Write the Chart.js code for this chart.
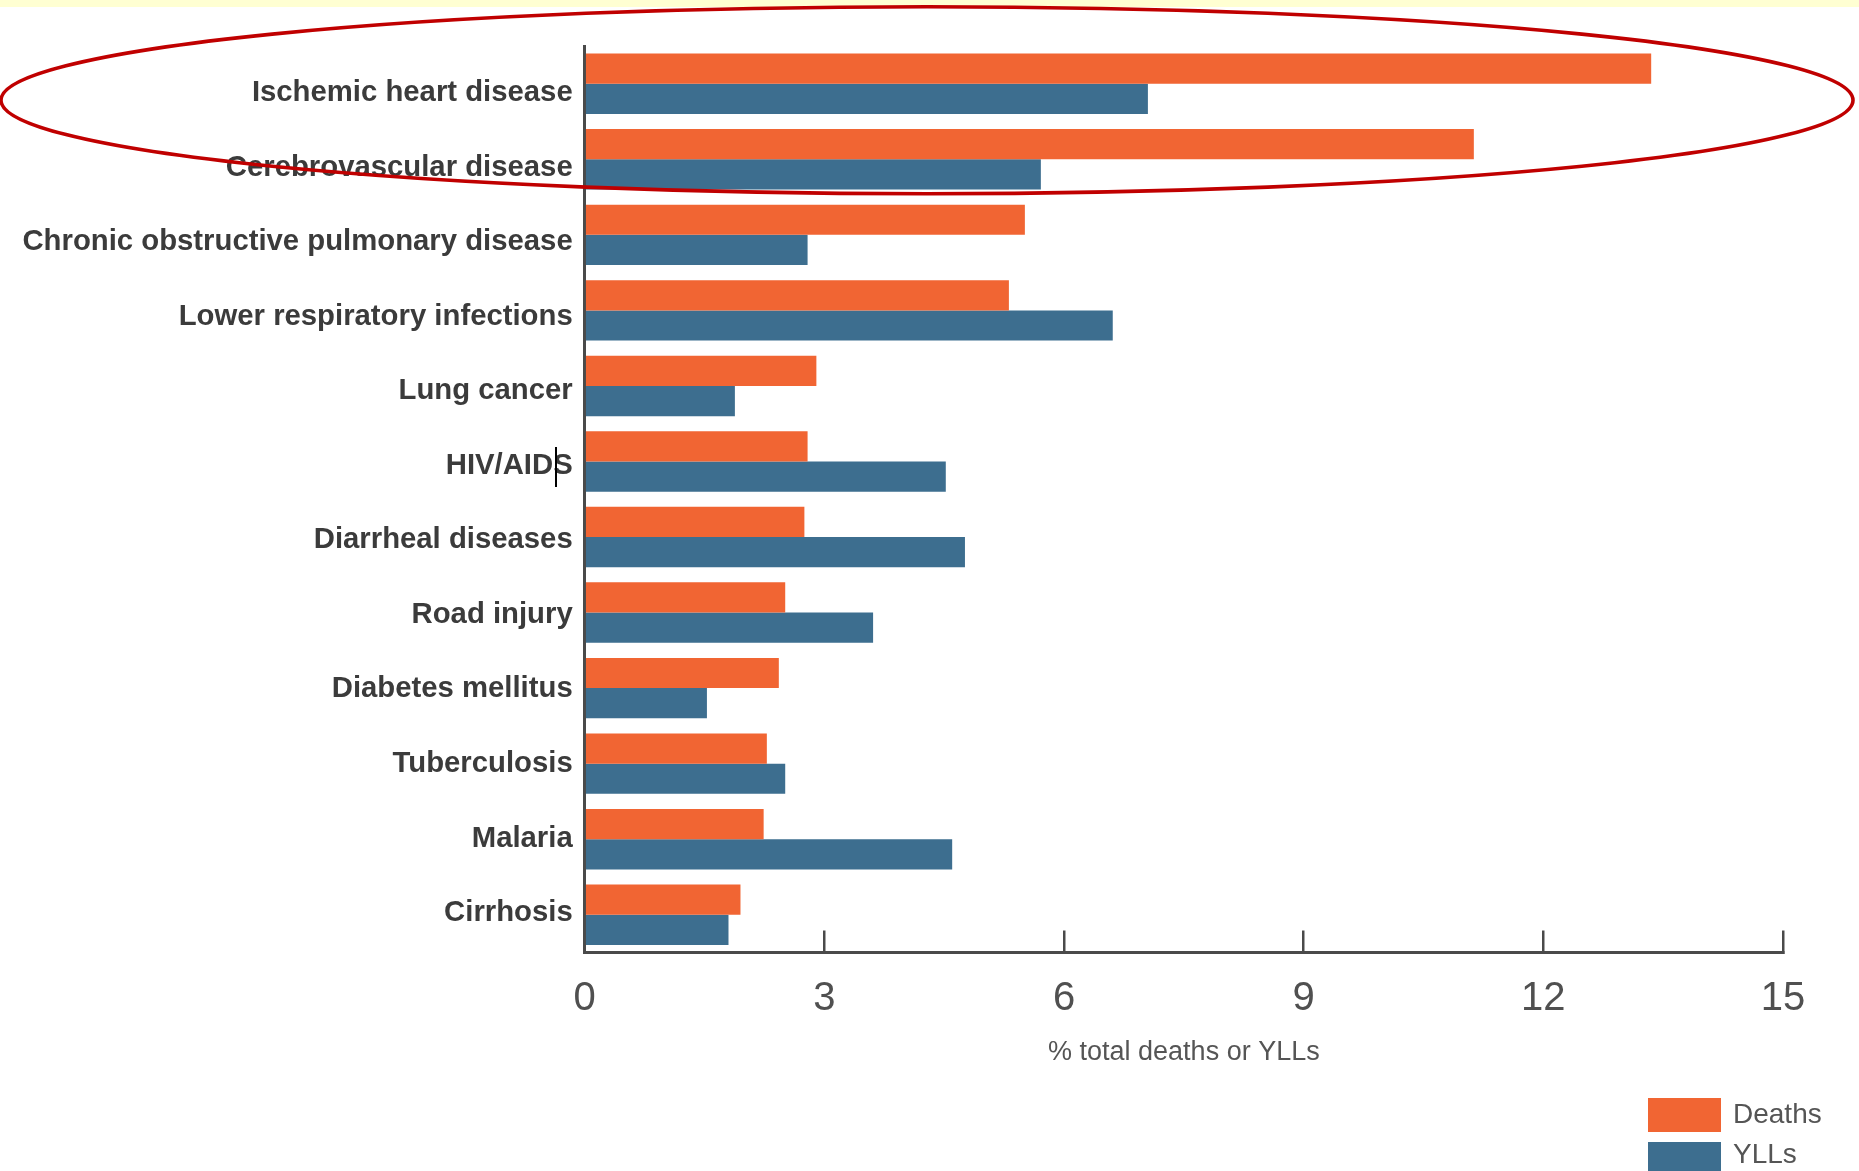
<!DOCTYPE html>
<html>
<head>
<meta charset="utf-8">
<title>Leading causes of death and years of life lost</title>
<script src="https://cdn.jsdelivr.net/npm/chart.js@4.4.1/dist/chart.umd.min.js"></script>
<style>
  html, body { margin: 0; padding: 0; background: #ffffff; overflow: hidden; }
  #wrap { position: relative; width: 1859px; height: 1171px; }
  #band { position: absolute; left: 0; top: 0; width: 100%; height: 7px; background: #FFFFD2; z-index: 0; }
  #chart { position: absolute; left: 0; top: 0; z-index: 1; }
  #legend { position: absolute; left: 1648px; top: 1098px; z-index: 2;
            font-family: 'Liberation Sans', Arial, sans-serif; font-size: 28px; color: #555555; }
  .row { display: flex; align-items: center; height: 34px; margin-bottom: 10px; }
  .row span.txt { position: relative; top: -1px; }
  .row:nth-child(2) span.txt { top: -5px; }
  .sw { width: 73px; height: 34px; margin-right: 12px; flex: none; }
  #caret { position: absolute; left: 555px; top: 447px; width: 2px; height: 40px; background: #000; z-index: 3; }
</style>
</head>
<body>
<div id="wrap">
  <div id="band"></div>
  <canvas id="chart" width="1859" height="1171"></canvas>
  <div id="legend"></div>
  <div id="caret"></div>
</div>
<script>
// Causes, top to bottom
const categories = [
  'Ischemic heart disease',
  'Cerebrovascular disease',
  'Chronic obstructive pulmonary disease',
  'Lower respiratory infections',
  'Lung cancer',
  'HIV/AIDS',
  'Diarrheal diseases',
  'Road injury',
  'Diabetes mellitus',
  'Tuberculosis',
  'Malaria',
  'Cirrhosis'
];
// % of total deaths
const deaths = [13.35, 11.13, 5.51, 5.31, 2.90, 2.79, 2.75, 2.51, 2.43, 2.28, 2.24, 1.95];
// % of total years of life lost
const ylls = [7.05, 5.71, 2.79, 6.61, 1.88, 4.52, 4.76, 3.61, 1.53, 2.51, 4.60, 1.80];
const seriesNames = ['Deaths', 'YLLs'];
const xTicks = [0, 3, 6, 9, 12, 15];
const axisTitle = '% total deaths or YLLs';
// categories circled by the highlight ring
const highlighted = [0, 1];

const ORANGE = '#F16533';
const BLUE = '#3D6E8F';
const AXIS = '#4a4a4a';
const FONT = "'Liberation Sans', Arial, sans-serif";

// red ring around the highlighted categories
const ringPlugin = {
  id: 'ring',
  afterDraw(chart) {
    const y = chart.scales.y;
    const step = y.getPixelForValue(1) - y.getPixelForValue(0);
    const top = y.getPixelForValue(highlighted[0]) - 1.02 * step;
    const bottom = y.getPixelForValue(highlighted[highlighted.length - 1]) + 0.455 * step;
    const left = 1;
    const right = chart.width - 6;
    const ctx = chart.ctx;
    ctx.save();
    ctx.beginPath();
    ctx.ellipse((left + right) / 2, (top + bottom) / 2, (right - left) / 2, (bottom - top) / 2, 0, 0, Math.PI * 2);
    ctx.strokeStyle = '#C00000';
    ctx.lineWidth = 3.6;
    ctx.stroke();
    ctx.restore();
  }
};

const chart = new Chart(document.getElementById('chart'), {
  type: 'bar',
  data: {
    labels: categories,
    datasets: [
      { label: seriesNames[0], data: deaths, backgroundColor: ORANGE, borderWidth: 0,
        categoryPercentage: 0.8, barPercentage: 1.0 },
      { label: seriesNames[1], data: ylls, backgroundColor: BLUE, borderWidth: 0,
        categoryPercentage: 0.8, barPercentage: 1.0 }
    ]
  },
  options: {
    indexAxis: 'y',
    responsive: false,
    devicePixelRatio: 1,
    animation: false,
    layout: { padding: { top: 46, right: 76, bottom: 0, left: 0 } },
    plugins: { legend: { display: false }, tooltip: { enabled: false } },
    scales: {
      x: {
        type: 'linear',
        min: xTicks[0],
        max: xTicks[xTicks.length - 1],
        afterBuildTicks(scale) { scale.ticks = xTicks.map(v => ({ value: v })); },
        afterFit(scale) { scale.height = 218.5; },
        ticks: { font: { family: FONT, size: 40 }, color: '#505050', padding: 44 },
        grid: { display: true, drawOnChartArea: false, drawTicks: true, tickLength: -22,
                lineWidth: 2.5, color: AXIS },
        border: { display: true, width: 3, color: AXIS },
        title: { display: true, text: axisTitle, color: '#555555',
                 font: { family: FONT, size: 27 }, padding: { top: 0, bottom: 102.5 } }
      },
      // band axis carrying the bars
      y: {
        type: 'category',
        weight: 1,
        afterFit(scale) { scale.width = 0; },
        ticks: { display: false },
        grid: { display: false, drawTicks: false },
        border: { display: true, width: 3, color: AXIS }
      },
      // name axis: one label per cause, set slightly tighter than the bar bands
      yNames: {
        type: 'linear',
        axis: 'y',
        position: 'left',
        weight: 2,
        offset: false,
        reverse: true,
        bounds: 'data',
        min: -0.63,
        max: 11.53,
        afterBuildTicks(scale) { scale.ticks = categories.map((c, i) => ({ value: i })); },
        afterFit(scale) { scale.width = 584.7; },
        ticks: {
          font: { family: FONT, size: 29.3, weight: 'bold' }, color: '#3b3b3b', padding: 12,
          callback: (value) => categories[value]
        },
        grid: { display: false, drawTicks: false, offset: false },
        border: { display: false }
      }
    }
  },
  plugins: [ringPlugin]
});

// legend built from the datasets
const legend = document.getElementById('legend');
chart.data.datasets.forEach(ds => {
  const row = document.createElement('div');
  row.className = 'row';
  const sw = document.createElement('span');
  sw.className = 'sw';
  sw.style.background = ds.backgroundColor;
  const txt = document.createElement('span');
  txt.className = 'txt';
  txt.textContent = ds.label;
  row.appendChild(sw);
  row.appendChild(txt);
  legend.appendChild(row);
});
</script>
</body>
</html>
